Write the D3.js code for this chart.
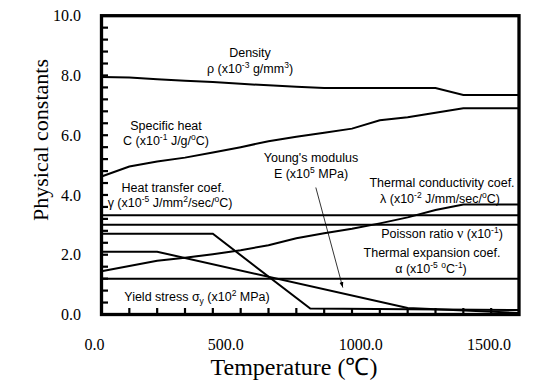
<!DOCTYPE html>
<html><head><meta charset="utf-8">
<script src="https://cdn.jsdelivr.net/npm/d3@7"></script>
<style>
body{margin:0;background:#fff;}
svg{display:block;}
.lbl{font-family:"Liberation Sans",Arial,sans-serif;font-size:12.5px;fill:#000;}
</style>
</head><body>
<svg id="chart" width="550" height="391"></svg>
<script>
// ---- data ----
const xTicks = [0, 500, 1000, 1500];
const yTicks = [0, 2, 4, 6, 8, 10];
const density      = [[0,7.95],[100,7.93],[200,7.87],[300,7.82],[400,7.78],[500,7.72],[600,7.67],[700,7.62],[800,7.58],[1200,7.58],[1300,7.35],[1500,7.35]];
const specificHeat = [[0,4.62],[100,4.95],[200,5.12],[300,5.25],[400,5.42],[500,5.6],[600,5.8],[700,5.95],[800,6.08],[900,6.22],[1000,6.5],[1100,6.6],[1200,6.75],[1300,6.9],[1500,6.9]];
const thermalCond  = [[0,1.45],[100,1.62],[200,1.8],[300,1.9],[400,2.02],[500,2.15],[600,2.32],[700,2.55],[800,2.72],[900,2.87],[1000,3.05],[1100,3.25],[1200,3.5],[1300,3.68],[1500,3.68]];
const heatTransfer = [[0,3.32],[1500,3.32]];
const poisson      = [[0,3.0],[1500,3.0]];
const thermalExp   = [[0,1.2],[1500,1.2]];
const youngs       = [[0,2.1],[200,2.1],[1100,0.22],[1500,0.05]];
const yieldStress  = [[0,2.7],[400,2.7],[750,0.2],[1500,0.15]];
const series = [density, specificHeat, thermalCond, heatTransfer, poisson, thermalExp, youngs, yieldStress];

const SERIF = "'Liberation Serif','Times New Roman',serif";
const svg = d3.select("#chart");
const L = 101.5, R = 519, TOP = 15.7, B = 314.5;
const x = d3.scaleLinear().domain([0,1500]).range([L,R]);
const y = d3.scaleLinear().domain([0,10]).range([B,TOP]);

// series lines
const line = d3.line().x(d=>x(d[0])).y(d=>y(d[1]));
svg.append("g").selectAll("path").data(series).join("path")
  .attr("d", line).attr("fill","none").attr("stroke","#000").attr("stroke-width",2);

// frame
svg.append("rect").attr("x",L).attr("y",TOP).attr("width",R-L).attr("height",B-TOP)
  .attr("fill","none").attr("stroke","#000").attr("stroke-width",3.3);

// inward minor ticks
const xMinor = d3.range(100,1500,100);
const yMinor = d3.range(1,25).map(i=>i*0.4);
const tickG = svg.append("g");
xMinor.forEach(v=>{
  tickG.append("line").attr("x1",x(v)).attr("x2",x(v)).attr("y1",B).attr("y2",B-6.5)
    .attr("stroke","#000").attr("stroke-width",2.2);
});
yMinor.forEach(v=>{
  tickG.append("line").attr("x1",L).attr("x2",L+6.5).attr("y1",y(v)).attr("y2",y(v))
    .attr("stroke","#000").attr("stroke-width",2.2);
});

// axis tick labels
xTicks.forEach((v,i)=>{
  svg.append("text").attr("x",x(v)+(i===xTicks.length-1?-8:3)).attr("y",B+35)
    .attr("text-anchor","end").style("font-family",SERIF).style("font-size","16px")
    .text(d3.format(".1f")(v));
});
yTicks.forEach(v=>{
  svg.append("text").attr("x",L-20.5).attr("y",y(v)).attr("dy","0.35em")
    .attr("text-anchor","end").style("font-family",SERIF).style("font-size","16px")
    .text(d3.format(".1f")(v));
});

// axis titles
svg.append("text").attr("x",294).attr("y",375).attr("text-anchor","middle")
  .style("font-family",SERIF).style("font-size","24px")
  .text("Temperature (℃)");
svg.append("text").attr("transform","translate(48,140) rotate(-90)").attr("text-anchor","middle")
  .style("font-family",SERIF).style("font-size","22px")
  .text("Physical constants");

function lbl(cx, by, segs){
  const t = svg.append("text").attr("class","lbl").attr("x",cx).attr("y",by).attr("text-anchor","middle");
  let cur = 0;
  segs.forEach(p=>{
    const s = t.append("tspan").text(p[0]);
    let target = 0;
    if(p[1]==="sup"){ target=-5; s.style("font-size","8.5px"); }
    if(p[1]==="sub"){ target=3; s.style("font-size","8.5px"); }
    if(p[1]==="serif"){ s.style("font-family",SERIF).style("font-size","14px"); }
    if(target!==cur){ s.attr("dy",target-cur); cur=target; }
  });
}
lbl(250,57,[["Density"]]);
lbl(250,72.5,[["ρ (x10"],["-3","sup"],[" g/mm"],["3","sup"],[")"]]);
lbl(166,129.5,[["Specific heat"]]);
lbl(166,144.5,[["C (x10"],["-1","sup"],[" J/g/"],["o","sup"],["C)"]]);
lbl(311,162,[["Young's modulus"]]);
lbl(311,177.5,[["E (x10"],["5","sup"],[" MPa)"]]);
lbl(173,192,[["Heat transfer coef."]]);
lbl(170,207,[["γ (x10"],["-5","sup"],[" J/mm"],["2","sup"],["/sec/"],["o","sup"],["C)"]]);
lbl(442,187,[["Thermal conductivity coef."]]);
lbl(440,202.5,[["λ (x10"],["-2","sup"],[" J/mm/sec/"],["o","sup"],["C)"]]);
lbl(442,238,[["Poisson ratio   "],["ν","serif"],[" (x10"],["-1","sup"],[")"]]);
lbl(432,257,[["Thermal expansion coef."]]);
lbl(431,273,[["α (x10"],["-5","sup"],[" "],["o","sup"],["C"],["-1","sup"],[")"]]);
lbl(197,301,[["Yield stress  σ"],["y","sub"],[" (x10"],["2","sup"],[" MPa)"]]);

const arrowFrom = [770,4.25], arrowTo = [867,0.9];
svg.append("defs").append("marker").attr("id","ah").attr("viewBox","0 0 10 10")
  .attr("refX",10).attr("refY",5).attr("markerWidth",7).attr("markerHeight",7).attr("orient","auto")
  .append("path").attr("d","M0,1.5 L10,5 L0,8.5 Z").attr("fill","#000");
svg.append("line").attr("x1",x(arrowFrom[0])).attr("y1",y(arrowFrom[1]))
  .attr("x2",x(arrowTo[0])).attr("y2",y(arrowTo[1]))
  .attr("stroke","#000").attr("stroke-width",0.8).attr("marker-end","url(#ah)");
</script>
</body></html>
